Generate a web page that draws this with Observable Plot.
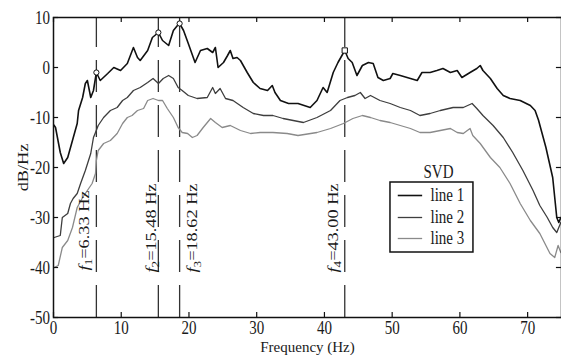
<!DOCTYPE html>
<html><head><meta charset="utf-8">
<script src="https://cdn.jsdelivr.net/npm/d3@7"></script>
<script src="https://cdn.jsdelivr.net/npm/@observablehq/plot@0.6"></script>
<style>html,body{margin:0;padding:0;background:#fff;} #chart{width:561px;height:355px;overflow:hidden;}</style>
</head><body><div id="chart"></div>
<script>
// ---- data ----
const freq1 = [0.05,0.3,1.0,1.5,2.1,2.8,3.5,3.7,4.3,4.7,5.0,5.5,5.9,6.33,6.9,8.0,8.9,9.9,10.9,11.8,12.4,12.8,13.9,14.6,15.48,16.1,17.0,17.7,18.3,18.62,19.2,19.9,20.9,21.7,22.7,23.5,23.9,24.3,25.1,25.7,26.1,26.5,27.1,27.6,28.6,29.5,30.5,31.6,32.3,32.7,33.5,34.7,36.1,37.9,38.9,39.8,40.4,41.3,42.0,43.0,43.5,44.1,44.8,45.6,46.5,47.2,47.9,48.7,49.7,50.1,51.2,52.7,53.7,54.4,55.6,56.6,57.5,58.6,59.6,60.3,61.5,62.5,63.0,63.4,64.5,65.5,66.4,67.4,68.9,70.4,71.1,71.6,72.1,72.7,73.2,73.7,74.0,74.3,74.6,74.9];
const db1   = [-11.5,-12,-17,-19.2,-18,-14.6,-11.2,-8.6,-6,-3.2,-2.6,-6,-4.6,-1,-2.6,-1.2,0,-0.6,0.8,4,2,1.4,3.4,6,7,5.4,4.4,7.4,8.4,8.8,7.4,4.8,1,3.4,3.8,3,4,0,1,2.4,3.4,1.8,2,1.4,-1,-3,-4.2,-4.6,-3.6,-5,-6.6,-7.2,-7.2,-8,-6.6,-4,-5,-1,1,3.4,1.8,1,-1.6,0.4,1,0.8,-2,-2.6,-2.2,-1.2,-1.6,-2.2,-2.6,-1,-1,-0.6,-0.2,-1,-0.6,-2,-1,-0.2,0.4,-0.6,-2.2,-4.2,-5.6,-6.2,-6.6,-7.6,-8.6,-10.5,-13,-16,-19,-22,-26,-30,-31,-30];

const freq2 = [0.1,1.0,1.3,2.1,2.5,2.9,3.5,4.0,4.7,5.5,5.9,6.2,6.6,7.4,8.4,9.4,10.2,10.9,11.8,12.8,13.9,14.7,15.5,16.2,17.0,17.7,18.4,19.0,19.9,21.2,22.7,23.5,23.9,24.6,25.4,26.5,28.0,29.5,31.0,32.4,33.9,35.4,36.9,38.9,40.9,42.3,43.4,44.5,45.3,46.0,46.8,48.2,49.7,51.2,52.7,54.1,55.6,57.1,59.0,60.5,61.8,62.5,63.4,64.9,66.4,67.8,69.3,70.8,71.8,72.9,73.7,74.3,74.9];
const db2   = [-34,-33.6,-30,-29.2,-27.2,-26.2,-25.2,-23.2,-20.6,-17.2,-14,-13,-11.6,-10,-8.6,-8,-6.6,-6,-4.6,-4,-3,-2.2,-3.2,-2.2,-1.6,-2.2,-4,-4.6,-5.6,-6.2,-6,-4,-5.2,-4.2,-6.2,-6.6,-8,-9.2,-9.6,-9.6,-10.2,-10.6,-11,-10,-8.6,-6.6,-6,-5.6,-5,-6.2,-5.6,-6.6,-7.2,-8,-8.6,-9.6,-9.2,-8.6,-8,-8,-7.2,-8.2,-9.6,-11.6,-14,-17,-20.6,-24.6,-27.6,-30,-32,-33,-31];

const freq3 = [0.1,0.7,1.3,2.1,2.8,3.5,4.3,5.0,5.7,6.2,6.33,6.6,7.4,8.4,9.4,10.2,10.9,11.6,12.4,13.3,13.9,14.7,15.5,16.1,16.8,17.7,18.4,19.0,19.8,20.5,21.2,22.1,23.2,23.9,24.9,26.1,27.6,29.1,30.5,32.4,34.5,36.1,38.9,40.9,42.8,44.2,45.6,46.8,48.2,49.7,51.2,52.7,54.1,55.6,57.1,58.6,59.6,60.5,61.5,61.9,63.0,64.5,65.9,67.4,68.9,70.4,71.8,73.3,74.0,74.5,74.9];
const db3   = [-40,-39.6,-36,-34.6,-32,-28,-26,-24.6,-23.2,-21.2,-18.6,-16.6,-15.2,-14.6,-13.2,-11.2,-10,-9.6,-8.6,-8.2,-6.6,-6.2,-6.6,-6.6,-8.2,-10,-12,-13,-13.2,-14,-13.6,-12,-10.2,-11,-12,-11.6,-12.6,-13.2,-13,-13,-13.2,-13.6,-13,-12.2,-11.2,-10.2,-9.6,-10,-10.6,-11,-11.6,-12.2,-13,-13,-12.6,-12.2,-13,-13.2,-12.2,-13.6,-15.2,-18,-20,-23.2,-27.2,-30.6,-33.2,-37.2,-38,-35.6,-37];

const seriesNames = ["line 1", "line 2", "line 3"];
const peakFreq  = [6.33, 15.48, 18.62, 43.00];
const peakDb    = [-1, 7, 8.8, 3.4];
const peakIndex = ["1", "2", "3", "4"];
const peakShape = ["circle", "circle", "circle", "square"];
const xTicks = [0, 10, 20, 30, 40, 50, 60, 70];
const yTicks = [10, 0, -10, -20, -30, -40, -50];
const legendTitle = "SVD";
const xLabel = "Frequency (Hz)";
const yLabel = "dB/Hz";

// ---- styles / layout ----
const colors = ["#111111", "#3e3e3e", "#8a8a8a"];
const widths = [1.6, 1.3, 1.3];
const FONT = "Liberation Serif";
const FS = 15;
const STRETCH = 1.22;
const labelTop = [-24.6, -23.2, -23.2, -23.2];
const labelDx  = [-12.5, -7.5, 13, -11.5];
const legendBox = {x1: 49.75, x2: 62.0, y1: -37, y2: -23};
const legendRows = [-25.6, -30, -34.2];
const legendLineX = [50.9, 54.5];
const legendTextX = 55.66;
const legendTitlePos = {x: 56.84, y: -20.9};

const toRows = (f, d) => f.map((v, i) => ({f: v, db: d[i]}));
const series = [toRows(freq1, db1), toRows(freq2, db2), toRows(freq3, db3)];
const peaks = peakFreq.map((f, i) => ({f, db: peakDb[i], k: peakIndex[i], shape: peakShape[i],
  label: `f${peakIndex[i]}=${f.toFixed(2)} Hz`}));

const marks = [];
marks.push(Plot.ruleX(peakFreq, {x: d => d, y1: -50, y2: 10, stroke: "#333", strokeWidth: 1.3, strokeDasharray: "32,13"}));
for (let s = 2; s >= 0; s--) {
  marks.push(Plot.line(series[s], {x: "f", y: "db", stroke: colors[s], strokeWidth: widths[s], strokeLinejoin: "round"}));
}
marks.push(Plot.dot(peaks.filter(p => p.shape === "circle"), {x: "f", y: "db", r: 2.6, symbol: "circle", fill: "white", stroke: "#111", strokeWidth: 1}));
marks.push(Plot.dot(peaks.filter(p => p.shape === "square"), {x: "f", y: "db", r: 3, symbol: "square", fill: "white", stroke: "#111", strokeWidth: 1}));
peaks.forEach((p, i) => {
  marks.push(Plot.text([p], {x: "f", y: () => labelTop[i], text: "label", rotate: -90, textAnchor: "end", lineAnchor: "middle",
    dx: labelDx[i], fontSize: FS, fontFamily: FONT, fill: "#1a1a1a"}));
});
marks.push(Plot.frame({stroke: "#111", strokeWidth: 1.5}));
marks.push(Plot.ruleX(xTicks, {x: d => d, y1: -50, y2: -49, stroke: "#111", strokeWidth: 1.2}));
marks.push(Plot.ruleX(xTicks, {x: d => d, y1: 10, y2: 9, stroke: "#111", strokeWidth: 1.2}));
marks.push(Plot.ruleY(yTicks, {y: d => d, x1: 0, x2: 0.75, stroke: "#111", strokeWidth: 1.2}));
marks.push(Plot.ruleY(yTicks, {y: d => d, x1: 75, x2: 74.25, stroke: "#111", strokeWidth: 1.2}));
marks.push(Plot.text(xTicks, {x: d => d, y: -50, dy: 10.5, text: d => String(d), lineAnchor: "middle", fontSize: FS, fontFamily: FONT, fill: "#1a1a1a", ariaLabel: "x-tick-label"}));
marks.push(Plot.text(yTicks, {x: 0, y: d => d, dx: -3.5, dy: 1, text: d => String(d), textAnchor: "end", lineAnchor: "middle", fontSize: FS, fontFamily: FONT, fill: "#1a1a1a"}));
marks.push(Plot.text([xLabel], {frameAnchor: "bottom", dy: 29.5, text: d => d, textAnchor: "middle", lineAnchor: "middle", fontSize: FS, fontFamily: FONT, fill: "#1a1a1a"}));
marks.push(Plot.text([yLabel], {frameAnchor: "left", dx: -30.8, rotate: -90, text: d => d, textAnchor: "middle", lineAnchor: "middle", fontSize: FS, fontFamily: FONT, fill: "#1a1a1a"}));
marks.push(Plot.rect([legendBox], {x1: "x1", x2: "x2", y1: "y1", y2: "y2", fill: "white", stroke: "#111", strokeWidth: 1.5}));
marks.push(Plot.text([legendTitle], {x: legendTitlePos.x, y: legendTitlePos.y, text: d => d, lineAnchor: "middle", fontSize: FS, fontFamily: FONT, fill: "#1a1a1a"}));
seriesNames.forEach((name, i) => {
  marks.push(Plot.ruleY([legendRows[i]], {y: d => d, x1: legendLineX[0], x2: legendLineX[1], stroke: colors[i], strokeWidth: widths[i]}));
  marks.push(Plot.text([name], {x: legendTextX, y: legendRows[i], text: d => d, textAnchor: "start", lineAnchor: "middle", fontSize: FS, fontFamily: FONT, fill: "#1a1a1a"}));
});

const chart = Plot.plot({
  width: 561, height: 355,
  marginLeft: 53, marginRight: 0, marginTop: 17, marginBottom: 38,
  x: {domain: [0, 75], axis: null},
  y: {domain: [-50, 10], axis: null},
  style: {fontFamily: FONT, fontSize: FS + "px", background: "white", color: "#111", overflow: "hidden"},
  marks
});
document.getElementById("chart").appendChild(chart);

const xTickTexts = new Set(chart.querySelectorAll('g[aria-label="x-tick-label"] text'));
chart.querySelectorAll("text").forEach(t => {
  const s = t.textContent;
  const m = /^f(\d)=(.*)$/.exec(s);
  if (m) {
    t.textContent = "";
    const ns = "http://www.w3.org/2000/svg";
    const a = document.createElementNS(ns, "tspan"); a.setAttribute("font-style", "italic"); a.textContent = "f";
    const b = document.createElementNS(ns, "tspan"); b.setAttribute("dy", "0.3em"); b.setAttribute("font-size", "0.72em"); b.textContent = m[1];
    const c = document.createElementNS(ns, "tspan"); c.setAttribute("dy", "-0.22em"); c.textContent = "=" + m[2];
    t.append(a, b, c);
  }
  const tr = t.getAttribute("transform");
  if (tr) {
    const k = s === xLabel ? 1.0 : xTickTexts.has(t) ? 1.1 : STRETCH;
    t.setAttribute("transform", tr + (tr.includes("rotate(-90)") ? ` scale(${k},1)` : ` scale(1,${k})`));
  }
});
</script>
</body></html>
